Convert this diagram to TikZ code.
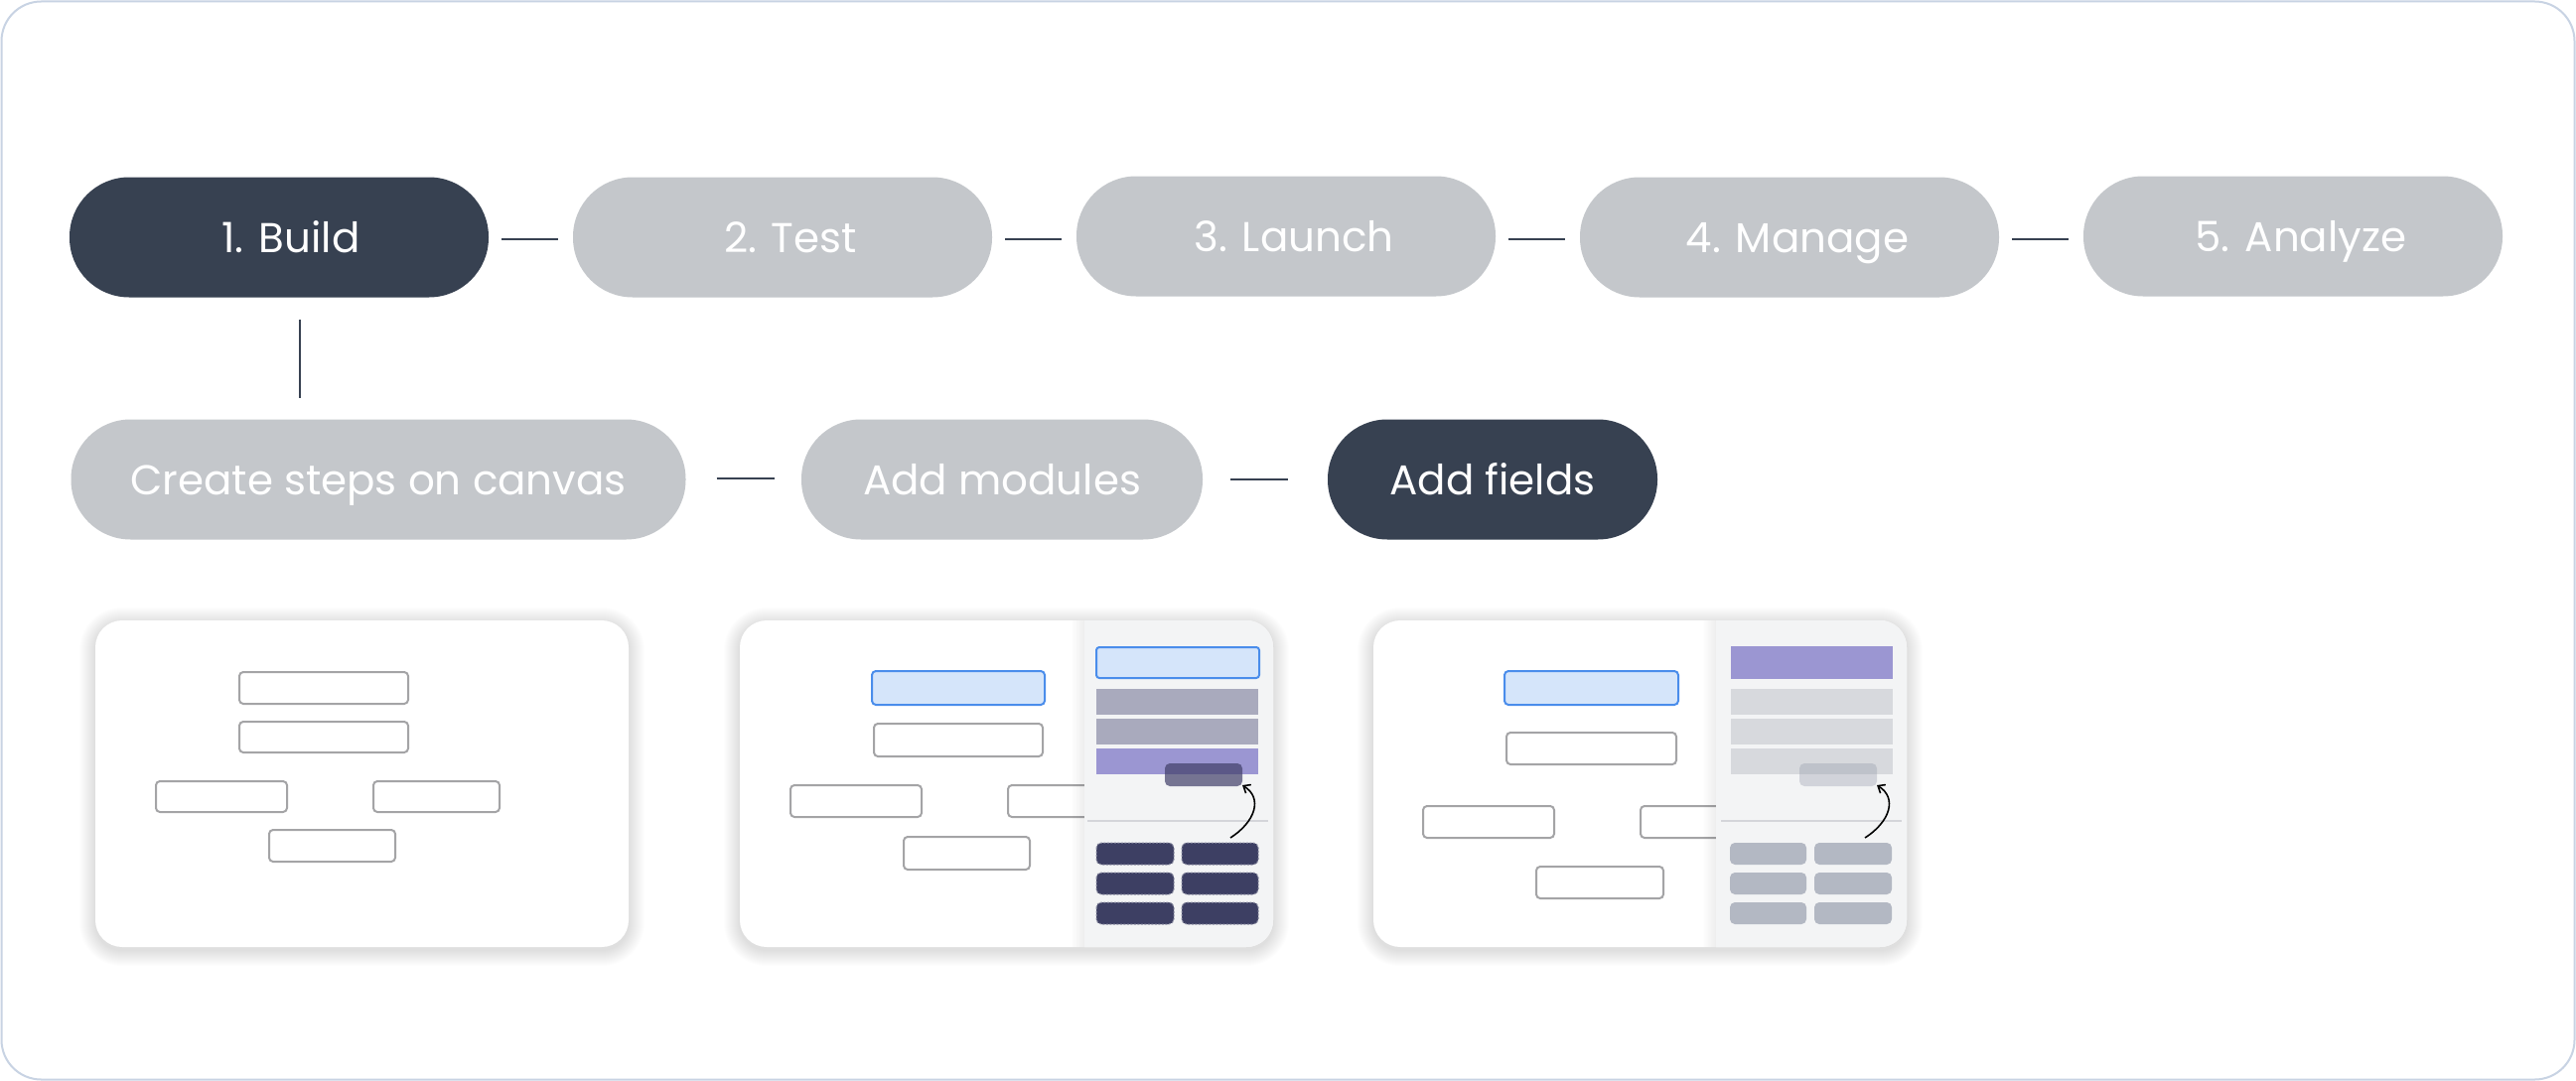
\documentclass[tikz,border=0pt]{standalone}
\usepackage{fontspec}
\setmainfont{Poppins}
\usetikzlibrary{calc,arrows.meta,fadings}

\definecolor{pillDark}{HTML}{374151}
\definecolor{pillLight}{HTML}{C4C7CB}
\definecolor{frameLine}{HTML}{C8D3E3}
\definecolor{boxLine}{HTML}{A4A4A6}
\definecolor{selFill}{HTML}{D5E5FA}
\definecolor{selLine}{HTML}{4A8DEB}
\definecolor{panelBg}{HTML}{F3F4F5}
\definecolor{barGray}{HTML}{A9AABD}
\definecolor{barPurple}{HTML}{9B96D2}
\definecolor{barLight}{HTML}{D7D9DD}
\definecolor{dragDark}{HTML}{403F68}
\definecolor{dragLight}{HTML}{9298A8}
\definecolor{divider}{HTML}{D4D5DA}
\definecolor{tileDark}{HTML}{3D3F63}
\definecolor{tileDash}{HTML}{8C8EA3}
\definecolor{tileLight}{HTML}{B3B8C3}

% white card with a soft drop shadow
\newcommand{\softcard}[4]{%
  \foreach \s [evaluate=\s as \r using 27+\s] in {1,...,16}{%
    \fill[black,opacity=0.006,rounded corners=\r pt] (#1-\s,#2-\s+3) rectangle (#3+\s,#4+\s+3);}
  \fill[white,rounded corners=27pt] (#1,#2) rectangle (#3,#4);}

\tikzset{
  pill/.style={rounded corners=60pt, minimum height=121pt, text=white,
    font=\fontsize{42}{50}\selectfont, inner sep=0pt, text height=30pt, text depth=0pt},
  pilldark/.style={pill, fill=pillDark},
  pilllight/.style={pill, fill=pillLight},
  % phase labels sit a little right of the pill centre
  textshift/.style={execute at begin node={\hspace*{#1}}},
  link/.style={draw=pillDark, line width=2pt},
  canvasbox/.style={draw=boxLine, line width=2pt, fill=white, rounded corners=4pt},
  selbox/.style={draw=selLine, line width=2pt, fill=selFill, rounded corners=4pt},
  dragarrow/.style={line width=1.6pt, -{Straight Barb[length=6pt,width=10pt]}},
}

\begin{document}
\begin{tikzpicture}[x=1pt,y=-1pt]
\useasboundingbox (0,0) rectangle (2594,1089);

% outer frame
\draw[frameLine, line width=2pt, fill=white, rounded corners=40pt] (1.5,1.5) rectangle (2592.5,1087.5);

% top row of phases
\node[pilldark,  textshift=24pt, minimum width=422pt] (build)   at (281,239)  {1. Build};
\node[pilllight, textshift=16pt, minimum width=422pt] (test)    at (788,239)  {2. Test};
\node[pilllight, textshift=16pt, minimum width=422pt] (launch)  at (1295,238) {3. Launch};
\node[pilllight, textshift=16pt, minimum width=422pt] (manage)  at (1802,239) {4. Manage};
\node[pilllight, textshift=16pt, minimum width=422pt] (analyze) at (2309,238) {5. Analyze};

\draw[link] ($(build.east)+(13,2)$)  -- ($(test.west)+(-15,2)$);
\draw[link] ($(test.east)+(13,2)$)   -- ($(launch.west)+(-15,3)$);
\draw[link] ($(launch.east)+(13,3)$) -- ($(manage.west)+(-15,2)$);
\draw[link] ($(manage.east)+(13,2)$) -- ($(analyze.west)+(-15,3)$);

% second row: sub-steps of Build
\node[pilllight, minimum width=619pt] (canvas)  at (381,483)  {Create steps on canvas};
\node[pilllight, minimum width=404pt] (modules) at (1009,483) {Add modules};
\node[pilldark,  minimum width=332pt] (fields)  at (1503,483) {Add fields};

\draw[link] ($(build.south)+(21,22)$) coordinate (v1) -- (v1 |- {$(canvas.north)+(0,-21)$});
\draw[link] ($(canvas.east)+(31,-1)$)  -- ($(modules.west)+(-27,-1)$);
\draw[link] ($(modules.east)+(28,0)$)  -- ($(fields.west)+(-40,0)$);

% ---- card 1: steps on the canvas
\softcard{96}{625}{633}{954}
\draw[canvasbox] (241,677) rectangle (411,709);
\draw[canvasbox] (241,727) rectangle (411,758);
\draw[canvasbox] (157,787) rectangle (289,818);
\draw[canvasbox] (376,787) rectangle (503,818);
\draw[canvasbox] (271,836) rectangle (398,868);

% ---- card 2: modules panel
\softcard{745}{625}{1282}{954}
\draw[selbox]    (878,676) rectangle (1052,710);
\draw[canvasbox] (880,729) rectangle (1050,762);
\draw[canvasbox] (796,791) rectangle (928,823);
\draw[canvasbox] (1015,791) rectangle (1147,823);
\draw[canvasbox] (910,843) rectangle (1037,876);
\begin{scope}
  \clip[rounded corners=27pt] (745,625) rectangle (1282,954);
  \fill[panelBg] (1092,600) rectangle (1300,980);
  \fill[black, opacity=0.07, path fading=west] (1078,600) rectangle (1092,980);
\end{scope}
\draw[selbox, rounded corners=3pt] (1104,652) rectangle (1268,683);
\fill[barGray]   (1104,694) rectangle (1267,720);
\fill[barGray]   (1104,724) rectangle (1267,750);
\fill[barPurple] (1104,754) rectangle (1267,780);
\fill[dragDark, opacity=0.7, rounded corners=5pt] (1173,769) rectangle (1251,792);
\draw[divider, line width=1.5pt] (1095,827) -- (1277,827);
\draw[dragarrow] (1239,844) .. controls (1264,828) and (1272,804) .. (1251,791);
\foreach \y in {849,879,909}{
  \draw[tileDash, fill=tileDark, dash pattern=on 2pt off 1.5pt, line width=1pt, rounded corners=5pt]
    (1104,\y) rectangle (1182,\y+22);
  \draw[tileDash, fill=tileDark, dash pattern=on 2pt off 1.5pt, line width=1pt, rounded corners=5pt]
    (1190,\y) rectangle (1267,\y+22);
}

% ---- card 3: fields panel
\softcard{1383}{625}{1920}{954}
\draw[selbox]    (1515,676) rectangle (1690,710);
\draw[canvasbox] (1517,738) rectangle (1688,770);
\draw[canvasbox] (1433,812) rectangle (1565,844);
\draw[canvasbox] (1652,812) rectangle (1784,844);
\draw[canvasbox] (1547,873) rectangle (1675,905);
\begin{scope}
  \clip[rounded corners=27pt] (1383,625) rectangle (1920,954);
  \fill[panelBg] (1728,600) rectangle (1940,980);
  \fill[black, opacity=0.07, path fading=west] (1714,600) rectangle (1728,980);
\end{scope}
\fill[barPurple] (1743,651) rectangle (1906,684);
\fill[barLight]  (1743,694) rectangle (1906,720);
\fill[barLight]  (1743,724) rectangle (1906,750);
\fill[barLight]  (1743,754) rectangle (1906,780);
\fill[dragLight, opacity=0.35, rounded corners=5pt] (1812,769) rectangle (1890,792);
\draw[divider, line width=1.5pt] (1733,827) -- (1915,827);
\draw[dragarrow] (1878,844) .. controls (1903,828) and (1911,804) .. (1890,791);
\foreach \y in {849,879,909}{
  \fill[tileLight, rounded corners=5pt] (1742,\y) rectangle (1819,\y+22);
  \fill[tileLight, rounded corners=5pt] (1827,\y) rectangle (1905,\y+22);
}
\end{tikzpicture}
\end{document}
